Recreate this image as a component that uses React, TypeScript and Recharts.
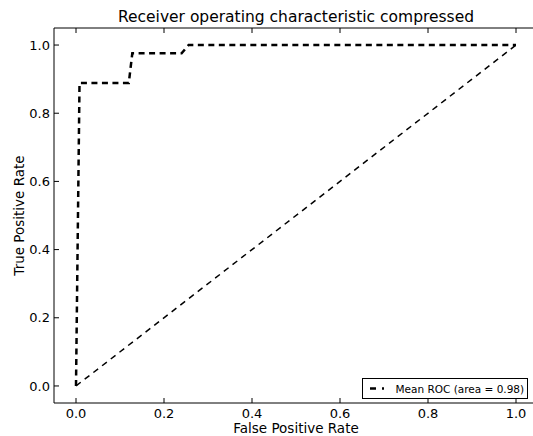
import React from "react";
import { LineChart, Line, XAxis, YAxis } from "recharts";

const rocX = [0, 0.008, 0.12, 0.128, 0.24, 0.256, 1.0];
const rocY = [0, 0.889, 0.889, 0.976, 0.976, 1.0, 1.0];
const diagX = [0, 1];
const diagY = [0, 1];
const ticks = [0, 0.2, 0.4, 0.6, 0.8, 1.0];
const title = "Receiver operating characteristic compressed";
const xLabel = "False Positive Rate";
const yLabel = "True Positive Rate";
const legendLabel = "Mean ROC (area = 0.98)";

const rocData = rocX.map((x, i) => ({ x, y: rocY[i] }));
const diagData = diagX.map((x, i) => ({ x, y: diagY[i] }));

const FONT = "DejaVu Sans";
const fmt = (v: number) => v.toFixed(1);

export default function App() {
  return (
    <div style={{ position: "absolute", left: 0, top: 0, width: 533, height: 436, overflow: "hidden", background: "#fff", fontFamily: FONT }}>
      <LineChart width={543} height={436} margin={{ top: 18, right: 5, bottom: 0, left: 0 }}>
        <XAxis
          xAxisId="b"
          dataKey="x"
          type="number"
          domain={[-0.05, 1.05]}
          ticks={ticks}
          tickFormatter={fmt}
          height={33}
          tickSize={-5}
          tickMargin={11}
          axisLine={{ stroke: "#000", strokeWidth: 1 }}
          tickLine={{ stroke: "#000" }}
          tick={{ fill: "#000", fontSize: 13, fontFamily: FONT }}
          allowDataOverflow
        />
        <XAxis
          xAxisId="t"
          orientation="top"
          dataKey="x"
          type="number"
          domain={[-0.05, 1.05]}
          ticks={ticks}
          height={10}
          tickSize={-5}
          axisLine={{ stroke: "#000", strokeWidth: 1 }}
          tickLine={{ stroke: "#000" }}
          tick={() => <g />}
          allowDataOverflow
        />
        <YAxis
          yAxisId="l"
          type="number"
          domain={[-0.05, 1.05]}
          ticks={ticks}
          tickFormatter={fmt}
          width={54}
          tickSize={-5}
          tickMargin={9}
          axisLine={{ stroke: "#000", strokeWidth: 1 }}
          tickLine={{ stroke: "#000" }}
          tick={{ fill: "#000", fontSize: 13, fontFamily: FONT }}
          allowDataOverflow
        />
        <Line
          xAxisId="b"
          yAxisId="l"
          data={diagData}
          dataKey="y"
          stroke="#000"
          strokeWidth={1.5}
          strokeDasharray="6 5"
          dot={false}
          activeDot={false}
          isAnimationActive={false}
          type="linear"
        />
        <Line
          xAxisId="b"
          yAxisId="l"
          data={rocData}
          dataKey="y"
          stroke="#000"
          strokeWidth={2.5}
          strokeDasharray="6 4.5"
          dot={false}
          activeDot={false}
          isAnimationActive={false}
          type="linear"
        />
      </LineChart>
      <svg width={533} height={436} style={{ position: "absolute", left: 0, top: 0, pointerEvents: "none" }}>
        <text x={296} y={22} textAnchor="middle" fontFamily={FONT} fontSize={15.5} fill="#000">{title}</text>
        <text x={296} y={433} textAnchor="middle" fontFamily={FONT} fontSize={13.5} fill="#000">{xLabel}</text>
        <text x={24} y={215.5} textAnchor="middle" fontFamily={FONT} fontSize={13.5} fill="#000" transform="rotate(-90 24 215.5)">{yLabel}</text>
        <rect x={362.5} y={378.5} width={165} height={20} fill="#fff" stroke="#000" strokeWidth={1} />
        <line x1={370} y1={388.5} x2={384} y2={388.5} stroke="#000" strokeWidth={2.5} strokeDasharray="6 6" />
        <text x={395.5} y={392.5} fontFamily={FONT} fontSize={10.5} fill="#000">{legendLabel}</text>
      </svg>
    </div>
  );
}
